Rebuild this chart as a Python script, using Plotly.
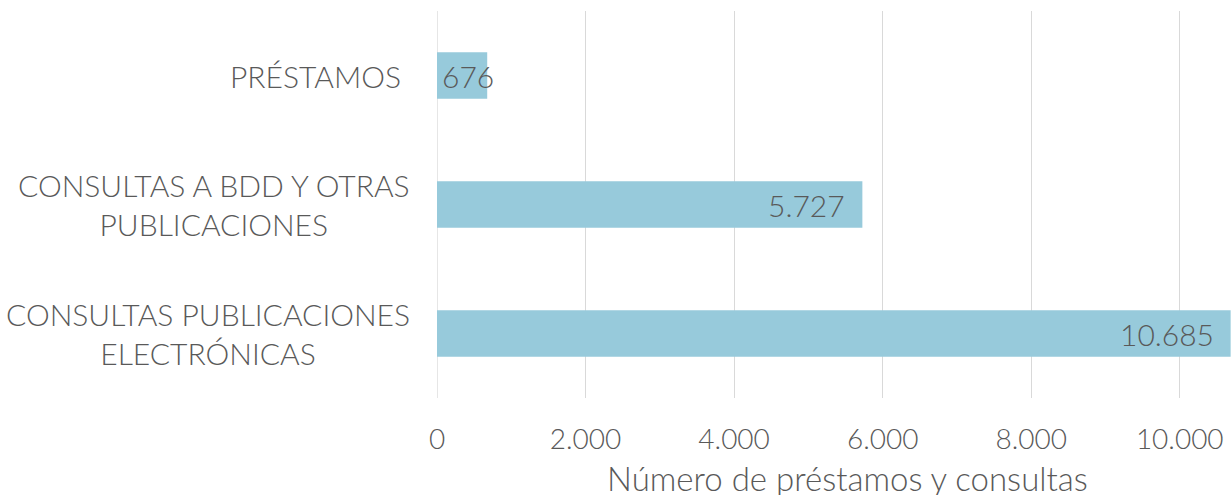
import plotly.graph_objects as go

categories = ["PRÉSTAMOS", "CONSULTAS A BDD Y OTRAS<br>PUBLICACIONES", "CONSULTAS PUBLICACIONES<br>ELECTRÓNICAS"]
values = [676, 5727, 10685]
tick_vals = [0, 2000, 4000, 6000, 8000, 10000]
tick_text = ["0", "2.000", "4.000", "6.000", "8.000", "10.000"]
x_title = "Número de préstamos y consultas"

FONT = "Lato"
W = 300
TXT = "#595959"
BAR = "#97CADB"
GRID = "#D9D9D9"

fig = go.Figure()
fig.add_trace(go.Bar(
    x=values, y=list(range(len(categories))), orientation="h",
    marker=dict(color=BAR, line=dict(width=0)),
    width=0.36, hoverinfo="skip",
))

x_max = 10690
px_per_unit = 794 / x_max
annotations = []
for i, (cat, v) in enumerate(zip(categories, values)):
    label = f"{v:,}".replace(",", ".")
    fits = v * px_per_unit > 70
    annotations.append(dict(
        x=v if fits else 0, y=i, xref="x", yref="y", text=label,
        xanchor="right" if fits else "left", yanchor="middle",
        xshift=-15 if fits else 3, showarrow=False,
        font=dict(family=FONT, size=30, color=TXT, weight=W),
    ))
    annotations.append(dict(
        x=0, y=i, xref="paper", yref="y", text=cat,
        xanchor="right", yanchor="middle", align="center",
        xshift=-25 if "<br>" in cat else -34, showarrow=False,
        font=dict(family=FONT, size=30, color=TXT, weight=W),
    ))

annotations.append(dict(
    x=0.5, y=0, xref="paper", yref="paper", text=x_title,
    xanchor="center", yanchor="middle", xshift=13, yshift=-80,
    showarrow=False, font=dict(family=FONT, size=33, color=TXT, weight=W),
))

fig.update_layout(
    width=1231, height=495,
    margin=dict(l=437, r=0, t=11, b=97),
    paper_bgcolor="white", plot_bgcolor="white",
    showlegend=False,
    annotations=annotations,
    xaxis=dict(
        range=[0, x_max], tickvals=tick_vals, ticktext=tick_text,
        showgrid=True, gridcolor=GRID, gridwidth=1.3,
        zeroline=False, showline=False,
        tickfont=dict(family=FONT, size=28, color=TXT, weight=W),
        ticklabelstandoff=22,
    ),
    yaxis=dict(
        range=[2.5, -0.5], showticklabels=False, showgrid=False,
        zeroline=False, showline=False,
    ),
)
fig.add_vline(x=0, line=dict(color=GRID, width=1.3), layer="below")

fig.write_html(
    "out.html",
    config={"displayModeBar": False},
    post_script="document.body.style.margin='0';document.body.style.overflow='hidden';",
)
